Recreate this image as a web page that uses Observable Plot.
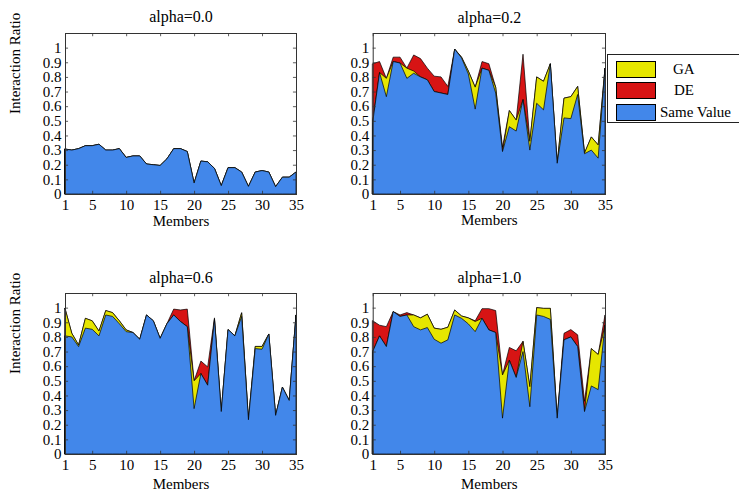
<!DOCTYPE html>
<html><head><meta charset="utf-8">
<script src="https://cdn.jsdelivr.net/npm/d3@7"></script>
<script src="https://cdn.jsdelivr.net/npm/@observablehq/plot@0.6"></script>
<style>
body{margin:0;overflow:hidden;background:#fff;}
#wrap{position:relative;width:739px;height:493px;overflow:hidden;font-family:"Liberation Serif","Times New Roman",serif;}
#wrap svg, #wrap svg text{font-family:"Liberation Serif","Times New Roman",serif !important;}
.panel{position:absolute;}
#legend{position:absolute;left:607px;top:54px;width:150px;height:67px;border:1px solid #222;background:#fff;}
.sw{position:absolute;left:8px;width:38px;height:15px;border:1px solid #000;}
.lt{position:absolute;font-size:15px;line-height:15px;color:#000;}
</style></head>
<body><div id="wrap"></div>
<script>
const members = d3.range(1, 36);
const xTicks = [1, 5, 10, 15, 20, 25, 30, 35];
const yTicks = [0, 0.1, 0.2, 0.3, 0.4, 0.5, 0.6, 0.7, 0.8, 0.9, 1];
const seriesNames = ["GA", "DE", "Same Value"];
const colors = {"GA": "#e6e600", "DE": "#d71414", "Same Value": "#4287ea"};

// alpha = 0.0
const same00 = [0.307,0.30,0.31,0.33,0.33,0.34,0.30,0.30,0.31,0.25,0.26,0.26,0.205,0.20,0.195,0.24,0.31,0.31,0.29,0.075,0.225,0.22,0.175,0.057,0.18,0.18,0.15,0.052,0.15,0.16,0.15,0.05,0.115,0.115,0.15];
const ga00 = same00;
const de00 = same00;

// alpha = 0.2
const same02 = [0.49,0.83,0.665,0.905,0.895,0.79,0.825,0.80,0.78,0.70,0.69,0.68,0.99,0.93,0.82,0.58,0.86,0.845,0.69,0.29,0.46,0.43,0.645,0.30,0.62,0.575,0.89,0.21,0.52,0.515,0.68,0.275,0.30,0.245,0.86];
const ga02 = [0.49,0.83,0.79,0.905,0.895,0.86,0.84,0.80,0.78,0.70,0.69,0.68,0.99,0.935,0.84,0.73,0.86,0.845,0.73,0.29,0.57,0.505,0.645,0.36,0.80,0.77,0.89,0.21,0.655,0.665,0.735,0.28,0.39,0.335,0.86];
const de02 = [0.89,0.905,0.79,0.935,0.935,0.86,0.95,0.925,0.86,0.805,0.80,0.735,0.99,0.935,0.84,0.73,0.905,0.89,0.73,0.32,0.57,0.505,0.955,0.36,0.80,0.77,0.89,0.21,0.655,0.665,0.735,0.28,0.39,0.335,0.86];

// alpha = 0.6
const same06 = [0.807,0.80,0.734,0.86,0.852,0.807,0.95,0.94,0.89,0.836,0.83,0.784,0.95,0.91,0.79,0.89,0.95,0.905,0.87,0.31,0.55,0.47,0.92,0.29,0.85,0.807,0.94,0.234,0.72,0.716,0.82,0.264,0.457,0.366,0.95];
const ga06 = [0.995,0.825,0.745,0.927,0.91,0.84,0.98,0.966,0.91,0.848,0.83,0.784,0.95,0.91,0.79,0.89,0.95,0.905,0.87,0.50,0.55,0.47,0.92,0.29,0.85,0.807,0.965,0.234,0.735,0.735,0.82,0.264,0.457,0.366,0.95];
const de06 = [0.995,0.825,0.745,0.927,0.91,0.84,0.98,0.966,0.91,0.848,0.83,0.784,0.95,0.91,0.79,0.89,0.99,0.984,0.99,0.50,0.635,0.595,0.93,0.29,0.85,0.807,0.965,0.234,0.735,0.735,0.82,0.264,0.457,0.366,0.95];

// alpha = 1.0
const same10 = [0.70,0.807,0.734,0.973,0.94,0.95,0.87,0.848,0.864,0.784,0.757,0.78,0.95,0.927,0.889,0.836,0.927,0.848,0.83,0.245,0.64,0.523,0.70,0.323,0.95,0.94,0.92,0.245,0.78,0.80,0.734,0.29,0.465,0.44,0.88];
const ga10 = [0.70,0.807,0.734,0.973,0.94,0.95,0.95,0.93,0.955,0.86,0.852,0.866,0.984,0.943,0.93,0.905,0.927,0.848,0.83,0.54,0.64,0.523,0.77,0.46,1.0,0.995,0.995,0.245,0.78,0.80,0.734,0.29,0.72,0.68,0.88];
const de10 = [0.91,0.88,0.87,0.973,0.95,0.966,0.95,0.93,0.955,0.86,0.852,0.866,0.984,0.943,0.93,0.91,0.993,0.993,0.98,0.54,0.728,0.705,0.77,0.46,1.0,0.995,0.995,0.245,0.825,0.85,0.814,0.36,0.72,0.68,0.95];

const panels = [
  {title:"alpha=0.0", same:same00, ga:ga00, de:de00, left:0, top:0, width:310, height:240, ml:65, mr:14, mt:33, mb:46, tdy:-17, ldy:27, ylab:true},
  {title:"alpha=0.2", same:same02, ga:ga02, de:de02, left:300, top:0, width:320, height:240, ml:72.7, mr:15, mt:33, mb:46, tdy:-16, ldy:26, ylab:false},
  {title:"alpha=0.6", same:same06, ga:ga06, de:de06, left:0, top:250, width:310, height:243, ml:65, mr:14, mt:43, mb:39, tdy:-16, ldy:30, ylab:true},
  {title:"alpha=1.0", same:same10, ga:ga10, de:de10, left:300, top:250, width:320, height:243, ml:72.7, mr:15, mt:43, mb:39, tdy:-16, ldy:30, ylab:false}
];

const FONT = '"Liberation Serif","Times New Roman",serif';
const wrap = document.getElementById("wrap");
for (const p of panels) {
  const rows = members.map((m, i) => ({m, same: p.same[i], ga: p.ga[i], de: p.de[i]}));
  const marks = [
    Plot.areaY(rows, {x:"m", y:"de", fill:colors["DE"], stroke:"#000", strokeWidth:0.7}),
    Plot.areaY(rows, {x:"m", y:"ga", fill:colors["GA"], stroke:"#000", strokeWidth:0.7}),
    Plot.areaY(rows, {x:"m", y:"same", fill:colors["Same Value"], stroke:"#000", strokeWidth:0.7}),
    Plot.ruleX(xTicks, {x:d=>d, y1:0, y2:0.022, stroke:"#333", strokeWidth:0.8}),
    Plot.ruleX(xTicks, {x:d=>d, y1:1.1, y2:1.078, stroke:"#333", strokeWidth:0.8}),
    Plot.ruleY(yTicks, {y:d=>d, x1:1, x2:1.45, stroke:"#333", strokeWidth:0.8}),
    Plot.ruleY(yTicks, {y:d=>d, x1:35, x2:34.55, stroke:"#333", strokeWidth:0.8}),
    Plot.frame({stroke:"#333", strokeWidth:1}),
    Plot.axisX({ticks:xTicks, tickSize:0, tickPadding:5, fontSize:15, fontFamily:FONT, label:null, tickFormat:d=>String(d)}),
    Plot.axisY({ticks:yTicks, tickSize:0, tickPadding:4, fontSize:15, fontFamily:FONT, label:null, tickFormat:d=>String(d)}),
    Plot.text([p.title], {text:d=>d, frameAnchor:"top", lineAnchor:"middle", dy:p.tdy, fontSize:16, fontFamily:FONT, fill:"#000"}),
    Plot.text(["Members"], {text:d=>d, frameAnchor:"bottom", lineAnchor:"middle", dy:p.ldy, fontSize:15, fontFamily:FONT, fill:"#000"})
  ];
  if (p.ylab) marks.push(Plot.text(["Interaction Ratio"], {text:d=>d, frameAnchor:"left", dx:-50, rotate:-90, fontSize:15, fontFamily:FONT, fill:"#000"}));
  const chart = Plot.plot({
    width:p.width, height:p.height,
    marginLeft:p.ml, marginRight:p.mr, marginTop:p.mt, marginBottom:p.mb,
    x:{domain:[1,35]}, y:{domain:[0,1.1]},
    style:{fontFamily:FONT, color:"#000", background:"transparent", overflow:"visible"},
    marks
  });
  d3.select(chart).selectAll("text, g").style("font-family", FONT);
  const div = document.createElement("div");
  div.className = "panel";
  div.style.left = p.left + "px";
  div.style.top = p.top + "px";
  div.appendChild(chart);
  wrap.appendChild(div);
}

// legend
const leg = document.createElement("div");
leg.id = "legend";
const legTops = [6, 27, 49];
const legText = [{t:"GA", x:65}, {t:"DE", x:66}, {t:"Same Value", x:52}];
seriesNames.forEach((s, i) => {
  const sw = document.createElement("div");
  sw.className = "sw";
  sw.style.top = legTops[i] + "px";
  sw.style.background = colors[s];
  leg.appendChild(sw);
  const t = document.createElement("div");
  t.className = "lt";
  t.style.left = legText[i].x + "px";
  t.style.top = (legTops[i] + 1) + "px";
  t.textContent = legText[i].t;
  leg.appendChild(t);
});
wrap.appendChild(leg);
</script>
</body></html>
